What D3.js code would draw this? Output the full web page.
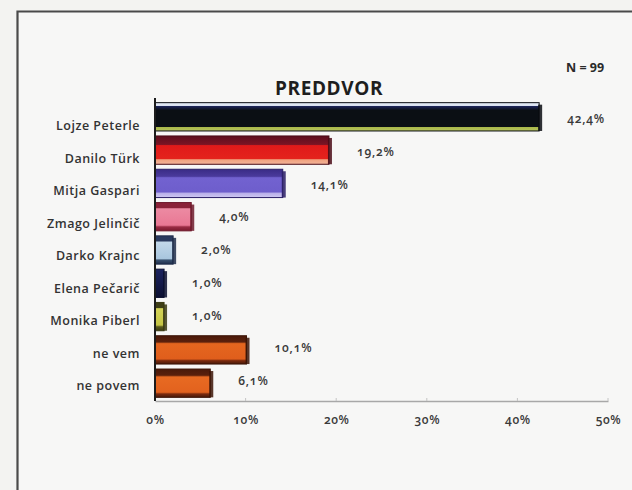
<!DOCTYPE html>
<html>
<head>
<meta charset="utf-8">
<script src="https://cdn.jsdelivr.net/npm/d3@7"></script>
<style>
  html, body { margin: 0; padding: 0; background: #f3f3f1; }
  svg { display: block; font-family: "Open Sans", "DejaVu Sans", sans-serif; }
  .num { font-feature-settings: "onum" 1; }
</style>
</head>
<body>
<svg id="chart" width="632" height="490"></svg>
<script>
const categories = ["Lojze Peterle", "Danilo Türk", "Mitja Gaspari", "Zmago Jelinčič", "Darko Krajnc", "Elena Pečarič", "Monika Piberl", "ne vem", "ne povem"];
const values = [42.4, 19.2, 14.1, 4.0, 2.0, 1.0, 1.0, 10.1, 6.1];
const valueLabels = ["42,4%", "19,2%", "14,1%", "4,0%", "2,0%", "1,0%", "1,0%", "10,1%", "6,1%"];
const tickValues = [0, 10, 20, 30, 40, 50];
const tickLabels = ["0%", "10%", "20%", "30%", "40%", "50%"];
const title = "PREDDVOR";
const sampleNote = "N = 99";

// bar shading: [offset, colour] stops, top to bottom, plus outline colour
const palette = [
  { stroke: "#0a0d12", stops: [[0, "#dfe6f4"], [0.1, "#dfe6f4"], [0.11, "#1d2662"], [0.27, "#0b0f14"], [0.86, "#0b0f14"], [0.87, "#a9b84a"], [1, "#b9c65e"]] },
  { stroke: "#4a0c16", stops: [[0, "#5c0f1e"], [0.3, "#7a1424"], [0.34, "#e01a1a"], [0.8, "#e4231c"], [0.84, "#f0a27e"], [1, "#f3b49a"]] },
  { stroke: "#2a1f66", stops: [[0, "#3a2c86"], [0.25, "#4a3a9c"], [0.3, "#7262d0"], [0.8, "#6e5ecc"], [0.85, "#b9b0ea"], [1, "#cfc8f2"]] },
  { stroke: "#6e1a2c", stops: [[0, "#8a2238"], [0.18, "#8a2238"], [0.22, "#ec8aa2"], [0.8, "#e97894"], [0.86, "#9a2c44"], [1, "#7a1a2e"]] },
  { stroke: "#1f2d4a", stops: [[0, "#2a3a5e"], [0.18, "#2a3a5e"], [0.22, "#c2d8ea"], [0.8, "#a9c6de"], [0.86, "#38506e"], [1, "#1f2d4a"]] },
  { stroke: "#0c1030", stops: [[0, "#1c2460"], [0.5, "#141a4a"], [1, "#0c1030"]] },
  { stroke: "#3a3a12", stops: [[0, "#3e3e16"], [0.18, "#3e3e16"], [0.22, "#d4d458"], [0.8, "#c4c444"], [0.86, "#5a5a1c"], [1, "#3a3a12"]] },
  { stroke: "#3c1406", stops: [[0, "#4a1a0a"], [0.22, "#5a200c"], [0.28, "#e4661f"], [0.82, "#e05e1c"], [0.88, "#7a2a0e"], [1, "#4a1a0a"]] },
  { stroke: "#3c1406", stops: [[0, "#4a1a0a"], [0.22, "#5a200c"], [0.28, "#e86a22"], [0.82, "#e2621e"], [0.88, "#7a2a0e"], [1, "#4a1a0a"]] }
];

const svg = d3.select("#chart");

// frame
svg.append("rect").attr("x", 18).attr("y", 12).attr("width", 620).attr("height", 490).attr("fill", "#f7f7f6");
svg.append("path")
  .attr("d", "M17.5,490 V11.5 H632")
  .attr("fill", "none").attr("stroke", "#4a4a4a").attr("stroke-width", 2.2);

const x = d3.scaleLinear().domain([0, 50]).range([155, 608]);
const y = d3.scaleBand().domain(categories).range([100, 400]).paddingInner(0.15).paddingOuter(0.08);
const yLabel = d3.scalePoint().domain(categories).range([126, 386]);
const yValue = d3.scalePoint().domain(categories).range([119, 381]);

const defs = svg.append("defs");
palette.forEach((p, i) => {
  const g = defs.append("linearGradient").attr("id", "g" + i)
    .attr("x1", 0).attr("y1", 0).attr("x2", 0).attr("y2", 1);
  p.stops.forEach(s => g.append("stop").attr("offset", s[0]).attr("stop-color", s[1]));
});

// title + note
svg.append("text").attr("x", 329).attr("y", 95).attr("text-anchor", "middle")
  .attr("font-size", 19).attr("font-weight", 700).attr("letter-spacing", 0.6)
  .attr("fill", "#1e1e1e").text(title);
svg.append("text").attr("x", 566).attr("y", 72)
  .attr("font-size", 12.5).attr("font-weight", 700).attr("fill", "#2a2a2a").text(sampleNote);

// bars
const bars = svg.append("g");
bars.selectAll("rect.bar").data(values).join("rect")
  .attr("class", "bar")
  .attr("x", x(0))
  .attr("y", (d, i) => y(categories[i]))
  .attr("width", d => x(d) - x(0))
  .attr("height", y.bandwidth())
  .attr("fill", (d, i) => `url(#g${i})`)
  .attr("stroke", (d, i) => palette[i].stroke)
  .attr("stroke-width", 1);
// dark end caps (3D side)
bars.selectAll("rect.cap").data(values).join("rect")
  .attr("class", "cap")
  .attr("x", d => x(d) - 1)
  .attr("y", (d, i) => y(categories[i]) + 2)
  .attr("width", 4)
  .attr("height", y.bandwidth() - 2)
  .attr("fill", (d, i) => palette[i].stroke)
  .attr("opacity", 0.85);

// value axis line + ticks
const xAxis = d3.axisBottom(x).tickValues(tickValues).tickFormat((d, i) => tickLabels[i]).tickSize(0).tickPadding(14);
const ax = svg.append("g").attr("transform", "translate(0,401)").call(xAxis);
ax.select(".domain").attr("stroke", "#a8a8a8").attr("stroke-width", 1.5);
ax.selectAll("text").attr("class", "num").attr("font-family", "\"Open Sans\", sans-serif")
  .attr("font-size", 12).attr("font-weight", 600).attr("letter-spacing", 0.6).attr("fill", "#3a3a3a");
svg.append("g").selectAll("line").data(tickValues.slice(1)).join("line")
  .attr("x1", d => x(d)).attr("x2", d => x(d)).attr("y1", 398).attr("y2", 401)
  .attr("stroke", "#c4c4c4");

// vertical axis line
svg.append("line").attr("x1", x(0)).attr("x2", x(0)).attr("y1", 98).attr("y2", 401)
  .attr("stroke", "#1c1c1c").attr("stroke-width", 2);

// category labels
svg.append("g").selectAll("text").data(categories).join("text")
  .attr("x", 140)
  .attr("y", d => yLabel(d))
  .attr("dy", "0.35em")
  .attr("text-anchor", "end")
  .attr("font-size", 12.5).attr("font-weight", 600).attr("letter-spacing", 0.5).attr("fill", "#333")
  .text(d => d);

// value labels
svg.append("g").selectAll("text").data(values).join("text")
  .attr("class", "num")
  .attr("x", d => x(d) + 28)
  .attr("y", (d, i) => yValue(categories[i]))
  .attr("dy", "0.35em")
  .attr("font-size", 12).attr("font-weight", 600).attr("letter-spacing", 0.8).attr("fill", "#3a3a3a")
  .text((d, i) => valueLabels[i]);
</script>
</body>
</html>
